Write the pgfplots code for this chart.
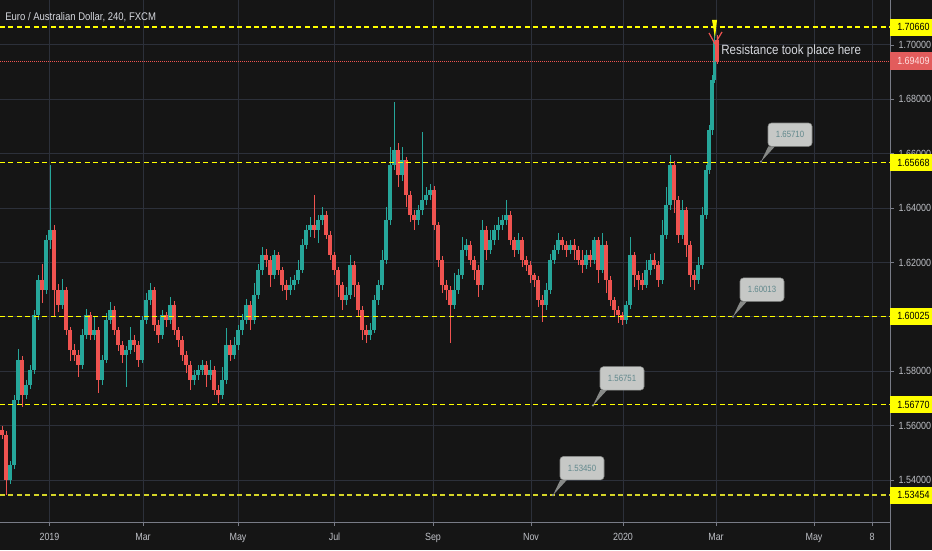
\documentclass[border=0pt]{standalone}
\usepackage{pgfplots}
\pgfplotsset{compat=1.18}
\usepackage{pgfplotstable}
\usepackage{fontspec}
\setmainfont{Liberation Sans}[FakeStretch=0.86]
\usetikzlibrary{arrows.meta}

\definecolor{bg}{RGB}{21,21,21}
\definecolor{gridc}{RGB}{44,48,58}
\definecolor{upc}{RGB}{38,166,154}
\definecolor{dnc}{RGB}{239,83,80}
\definecolor{txt}{RGB}{190,192,198}
\definecolor{lvl}{RGB}{255,255,0}
\definecolor{lvldim}{RGB}{212,212,40}
\definecolor{axisc}{RGB}{120,123,134}
\definecolor{calloutfill}{RGB}{198,200,198}
\definecolor{callouttext}{RGB}{96,136,140}
\definecolor{calloutedge}{RGB}{135,137,135}
\definecolor{lastbox}{RGB}{226,92,92}
\definecolor{notec}{RGB}{214,216,222}

% EUR/AUD, one candle per column: x position, open, high, low, close
\pgfplotstableread{
x o h l c
2 1.5585 1.5600 1.5550 1.5566
6 1.5566 1.5580 1.5346 1.5401
10 1.5401 1.5470 1.5385 1.5456
14 1.5456 1.5715 1.5440 1.5695
18 1.5695 1.5883 1.5680 1.5842
22 1.5842 1.5858 1.5669 1.5713
26 1.5713 1.5768 1.5698 1.5750
30 1.5750 1.5822 1.5735 1.5805
34 1.5805 1.6025 1.5790 1.6007
38 1.6007 1.6155 1.5990 1.6136
42 1.6136 1.6195 1.6050 1.6099
46 1.6099 1.6300 1.6085 1.6283
50 1.6283 1.6559 1.6250 1.6320
54 1.6320 1.6340 1.6000 1.6099
58 1.6099 1.6120 1.6020 1.6044
62 1.6044 1.6140 1.6030 1.6099
66 1.6099 1.6110 1.5935 1.5952
70 1.5952 1.5965 1.5840 1.5879
74 1.5879 1.5900 1.5840 1.5860
78 1.5860 1.5880 1.5780 1.5823
82 1.5823 1.5955 1.5810 1.5934
86 1.5934 1.6030 1.5920 1.6007
90 1.6007 1.6020 1.5915 1.5934
94 1.5934 1.6000 1.5915 1.5952
98 1.5952 1.5965 1.5720 1.5768
102 1.5768 1.5860 1.5750 1.5842
106 1.5842 1.6015 1.5830 1.5989
110 1.5989 1.6055 1.5975 1.6026
114 1.6026 1.6040 1.5935 1.5952
118 1.5952 1.5965 1.5875 1.5897
122 1.5897 1.5910 1.5830 1.5860
126 1.5860 1.5895 1.5743 1.5879
130 1.5879 1.5963 1.5865 1.5915
134 1.5915 1.5935 1.5870 1.5897
138 1.5897 1.5910 1.5816 1.5842
142 1.5842 1.6005 1.5830 1.5989
146 1.5989 1.6090 1.5975 1.6062
150 1.6062 1.6125 1.6045 1.6099
154 1.6099 1.6110 1.5950 1.5971
158 1.5971 1.5990 1.5904 1.5934
162 1.5934 1.6025 1.5920 1.6007
166 1.6007 1.6020 1.5963 1.5989
170 1.5989 1.6073 1.5975 1.6044
174 1.6044 1.6060 1.5935 1.5952
178 1.5952 1.5965 1.5890 1.5915
182 1.5915 1.5930 1.5840 1.5860
186 1.5860 1.5875 1.5794 1.5823
190 1.5823 1.5840 1.5732 1.5768
194 1.5768 1.5805 1.5750 1.5787
198 1.5787 1.5825 1.5770 1.5805
202 1.5805 1.5842 1.5785 1.5823
206 1.5823 1.5840 1.5743 1.5787
210 1.5787 1.5842 1.5770 1.5805
214 1.5805 1.5820 1.5715 1.5732
218 1.5732 1.5750 1.5684 1.5713
222 1.5713 1.5817 1.5700 1.5768
226 1.5768 1.5960 1.5755 1.5897
230 1.5897 1.5915 1.5840 1.5860
234 1.5860 1.5926 1.5845 1.5897
238 1.5897 1.5970 1.5880 1.5952
242 1.5952 1.6010 1.5935 1.5989
246 1.5989 1.6065 1.5975 1.6044
250 1.6044 1.6060 1.5952 1.5989
254 1.5989 1.6125 1.5975 1.6081
258 1.6081 1.6195 1.6065 1.6173
262 1.6173 1.6257 1.6155 1.6228
266 1.6228 1.6250 1.6184 1.6210
270 1.6210 1.6225 1.6110 1.6154
274 1.6154 1.6246 1.6140 1.6228
278 1.6228 1.6240 1.6155 1.6173
282 1.6173 1.6185 1.6095 1.6118
286 1.6118 1.6135 1.6062 1.6099
290 1.6099 1.6147 1.6080 1.6118
294 1.6118 1.6155 1.6100 1.6136
298 1.6136 1.6210 1.6120 1.6173
302 1.6173 1.6285 1.6160 1.6265
306 1.6265 1.6340 1.6250 1.6320
310 1.6320 1.6368 1.6294 1.6338
314 1.6338 1.6448 1.6290 1.6320
318 1.6320 1.6375 1.6272 1.6357
322 1.6357 1.6404 1.6340 1.6375
326 1.6375 1.6390 1.6285 1.6301
330 1.6301 1.6315 1.6210 1.6228
334 1.6228 1.6240 1.6155 1.6173
338 1.6173 1.6185 1.6073 1.6118
342 1.6118 1.6130 1.6026 1.6062
346 1.6062 1.6110 1.6045 1.6081
350 1.6081 1.6228 1.6065 1.6191
354 1.6191 1.6205 1.6073 1.6118
358 1.6118 1.6130 1.6005 1.6026
362 1.6026 1.6040 1.5915 1.5952
366 1.5952 1.5970 1.5904 1.5934
370 1.5934 1.5978 1.5915 1.5952
374 1.5952 1.6080 1.5940 1.6062
378 1.6062 1.6136 1.6045 1.6118
382 1.6118 1.6246 1.6100 1.6210
386 1.6210 1.6404 1.6195 1.6357
390 1.6357 1.6625 1.6340 1.6559
394 1.6559 1.6790 1.6540 1.6614
398 1.6614 1.6640 1.6478 1.6522
402 1.6522 1.6625 1.6500 1.6577
406 1.6577 1.6590 1.6404 1.6448
410 1.6448 1.6462 1.6350 1.6375
414 1.6375 1.6393 1.6320 1.6357
418 1.6357 1.6410 1.6340 1.6393
422 1.6393 1.6680 1.6375 1.6430
426 1.6430 1.6478 1.6410 1.6448
430 1.6448 1.6490 1.6430 1.6467
434 1.6467 1.6480 1.6320 1.6338
438 1.6338 1.6350 1.6184 1.6210
442 1.6210 1.6225 1.6088 1.6118
446 1.6118 1.6135 1.6062 1.6099
450 1.6099 1.6115 1.5904 1.6044
454 1.6044 1.6162 1.6030 1.6099
458 1.6099 1.6175 1.6085 1.6154
462 1.6154 1.6294 1.6140 1.6246
466 1.6246 1.6285 1.6225 1.6265
470 1.6265 1.6280 1.6190 1.6210
474 1.6210 1.6225 1.6136 1.6173
478 1.6173 1.6191 1.6073 1.6118
482 1.6118 1.6357 1.6100 1.6320
486 1.6320 1.6335 1.6210 1.6246
490 1.6246 1.6320 1.6230 1.6283
494 1.6283 1.6340 1.6265 1.6320
498 1.6320 1.6368 1.6283 1.6338
502 1.6338 1.6375 1.6320 1.6357
506 1.6357 1.6430 1.6340 1.6375
510 1.6375 1.6390 1.6265 1.6283
514 1.6283 1.6295 1.6220 1.6246
518 1.6246 1.6310 1.6230 1.6283
522 1.6283 1.6295 1.6184 1.6210
526 1.6210 1.6225 1.6170 1.6191
530 1.6191 1.6205 1.6125 1.6154
534 1.6154 1.6162 1.6110 1.6136
538 1.6136 1.6150 1.6037 1.6062
542 1.6062 1.6080 1.5982 1.6044
546 1.6044 1.6125 1.6025 1.6099
550 1.6099 1.6230 1.6085 1.6210
554 1.6210 1.6265 1.6195 1.6246
558 1.6246 1.6310 1.6230 1.6283
562 1.6283 1.6294 1.6245 1.6265
566 1.6265 1.6280 1.6220 1.6246
570 1.6246 1.6283 1.6230 1.6265
574 1.6265 1.6285 1.6210 1.6246
578 1.6246 1.6260 1.6190 1.6210
582 1.6210 1.6246 1.6162 1.6191
586 1.6191 1.6245 1.6175 1.6228
590 1.6228 1.6246 1.6184 1.6210
594 1.6210 1.6294 1.6195 1.6283
598 1.6283 1.6295 1.6125 1.6173
602 1.6173 1.6310 1.6160 1.6265
606 1.6265 1.6280 1.6088 1.6136
610 1.6136 1.6150 1.6040 1.6062
614 1.6062 1.6075 1.6000 1.6026
618 1.6026 1.6040 1.5978 1.6007
622 1.6007 1.6020 1.5971 1.5989
626 1.5989 1.6060 1.5975 1.6044
630 1.6044 1.6294 1.6030 1.6228
634 1.6228 1.6240 1.6110 1.6154
638 1.6154 1.6170 1.6099 1.6136
642 1.6136 1.6162 1.6100 1.6118
646 1.6118 1.6210 1.6105 1.6173
650 1.6173 1.6230 1.6155 1.6210
654 1.6210 1.6235 1.6175 1.6191
658 1.6191 1.6205 1.6110 1.6136
662 1.6136 1.6357 1.6120 1.6301
666 1.6301 1.6478 1.6285 1.6412
670 1.6412 1.6596 1.6395 1.6559
674 1.6559 1.6575 1.6382 1.6430
678 1.6430 1.6445 1.6272 1.6301
682 1.6301 1.6430 1.6285 1.6393
686 1.6393 1.6405 1.6220 1.6265
690 1.6265 1.6280 1.6110 1.6154
694 1.6154 1.6173 1.6099 1.6136
698 1.6136 1.6220 1.6120 1.6191
702 1.6191 1.6404 1.6175 1.6375
706 1.6375 1.6560 1.6360 1.6540
709 1.6540 1.6705 1.6525 1.6687
712 1.6687 1.6890 1.6670 1.6871
714.5 1.6871 1.7066 1.6860 1.7018
717 1.7018 1.7035 1.6930 1.6941
}\candles

\pgfplotsset{
  candle/.style 2 args={draw=none, mark=none, forget plot,
    error bars/y dir=both, error bars/y explicit, error bars/error mark=none,
    error bars/error bar style={line width=#2, draw=#1, solid}},
}

% price callout: tip x, tip price, text
\newcommand{\callout}[3]{%
  \fill[calloutedge] (axis cs:#1,#2) circle (0.9pt);
  \fill[calloutedge] (axis cs:#1,#2) -- ++(5.5pt,11.5pt) -- ++(5pt,0pt) -- cycle;
  \node[draw=calloutedge, fill=calloutfill, rounded corners=2.5pt, minimum width=33pt,
        minimum height=17.5pt, inner sep=0pt, text=callouttext,
        font=\fontsize{6.8}{8}\selectfont] at ([shift={(21.75pt,20.25pt)}]axis cs:#1,#2) {#3};
}

\begin{document}
\begin{tikzpicture}
\useasboundingbox (0,0) rectangle (699pt,412.5pt);
\fill[bg] (0,0) rectangle (699pt,412.5pt);
\begin{axis}[
  at={(0pt,21pt)}, anchor=south west,
  width=667.5pt, height=391.5pt, scale only axis,
  xmin=0, xmax=890, ymin=1.52463, ymax=1.71654,
  clip=false,
  axis x line*=bottom, axis y line*=right,
  axis line style={draw=axisc, line width=0.75pt},
  xtick={49.5,143,238,334.5,433,531,623,716,814,872},
  xticklabels={2019,Mar,May,Jul,Sep,Nov,2020,Mar,May,8},
  ytick={1.54,1.56,1.58,1.60,1.62,1.64,1.66,1.68,1.70},
  yticklabels={1.54000,1.56000,1.58000,1.60000,1.62000,1.64000,1.66000,1.68000,1.70000},
  grid=major, major grid style={draw=gridc, line width=0.75pt},
  tick align=outside, major tick length=3pt,
  tick style={draw=axisc, line width=0.6pt},
  ticklabel style={font=\fontsize{7.8}{9}\selectfont, text=txt},
  xticklabel style={text height=6pt, text depth=1.6pt, yshift=-1.5pt},
  yticklabel style={anchor=west},
]
% wicks
\addplot[candle={upc}{0.7pt}] table[x=x,
  y expr={\thisrow{c}>=\thisrow{o} ? 0.5*(\thisrow{h}+\thisrow{l}) : nan},
  y error expr={0.5*(\thisrow{h}-\thisrow{l})}] {\candles};
\addplot[candle={dnc}{0.7pt}] table[x=x,
  y expr={\thisrow{c}<\thisrow{o} ? 0.5*(\thisrow{h}+\thisrow{l}) : nan},
  y error expr={0.5*(\thisrow{h}-\thisrow{l})}] {\candles};
% bodies
\addplot[candle={upc}{2.3pt}] table[x=x,
  y expr={\thisrow{c}>=\thisrow{o} ? 0.5*(\thisrow{o}+\thisrow{c}) : nan},
  y error expr={0.5*abs(\thisrow{c}-\thisrow{o})}] {\candles};
\addplot[candle={dnc}{2.3pt}] table[x=x,
  y expr={\thisrow{c}<\thisrow{o} ? 0.5*(\thisrow{o}+\thisrow{c}) : nan},
  y error expr={0.5*abs(\thisrow{c}-\thisrow{o})}] {\candles};

% horizontal support / resistance levels
\pgfplotsinvokeforeach{1.70660,1.65668,1.60025,1.56770}{
  \draw[lvl, line width=0.9pt, dash pattern=on 3.75pt off 2.6pt] (axis cs:0,#1) -- (axis cs:890,#1);
}
\draw[lvldim, line width=0.9pt, dash pattern=on 3.75pt off 2.6pt] (axis cs:0,1.53454) -- (axis cs:890,1.53454);
% last price
\draw[dnc, line width=0.6pt, dash pattern=on 0.75pt off 0.75pt] (axis cs:0,1.69409) -- (axis cs:890,1.69409);

\coordinate (lvA) at (axis cs:890,1.70660);
\coordinate (lvB) at (axis cs:890,1.65668);
\coordinate (lvC) at (axis cs:890,1.60025);
\coordinate (lvD) at (axis cs:890,1.56770);
\coordinate (lvE) at (axis cs:890,1.53454);
\coordinate (lvL) at (axis cs:890,1.69409);

\callout{761}{1.65710}{1.65710}
\callout{733}{1.60013}{1.60013}
\callout{593}{1.56751}{1.56751}
\callout{553}{1.53450}{1.53450}

% mark at the top
\fill[lvl] (axis cs:712,1.7092) -- (axis cs:717,1.7092) -- (axis cs:715,1.7026) -- cycle;
\draw[dnc, line width=0.9pt] (axis cs:709,1.7044) -- (axis cs:715,1.7004) -- (axis cs:722,1.7048);

\node[anchor=west, text=notec, inner sep=0pt, font=\fontsize{10.1}{12}\selectfont]
  at (axis cs:721,1.6978) {Resistance took place here};
\node[anchor=west, text=notec, inner sep=0pt, font=\fontsize{8.3}{10}\selectfont]
  at (axis cs:5,1.7103) {Euro / Australian Dollar, 240, FXCM};
\end{axis}

% price scale extends to the bottom edge
\draw[axisc, line width=0.75pt] (667.5pt,0pt) -- (667.5pt,21pt);

% level labels on the price scale
\foreach \c/\t in {lvA/1.70660, lvB/1.65668, lvC/1.60025, lvD/1.56770, lvE/1.53454}{
  \fill[lvl] ([yshift=-6.4pt]\c) rectangle ([xshift=31.5pt,yshift=6.4pt]\c);
  \node[anchor=west, inner sep=0pt, text=black, font=\fontsize{7.8}{9}\selectfont]
    at ([xshift=5.25pt]\c) {\t};
}
\fill[lastbox] ([yshift=-6.6pt]lvL) rectangle ([xshift=31.5pt,yshift=6.6pt]lvL);
\node[anchor=west, inner sep=0pt, text=white!88!red, font=\fontsize{7.8}{9}\selectfont]
  at ([xshift=5.25pt]lvL) {1.69409};
\end{tikzpicture}
\end{document}
